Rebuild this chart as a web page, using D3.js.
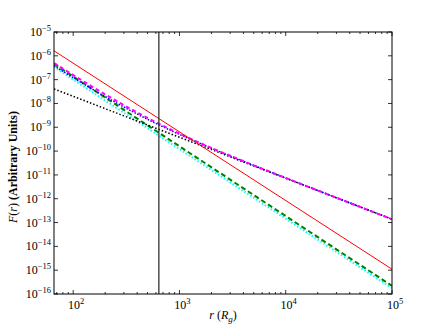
<!DOCTYPE html>
<html>
<head>
<meta charset="utf-8">
<script src="https://cdn.jsdelivr.net/npm/d3@7"></script>
<style>
  body { margin: 0; background: #fff; }
  text { font-family: "Liberation Serif", "DejaVu Serif", serif; fill: #000; }
</style>
</head>
<body>
<svg id="canvas" width="436" height="327"></svg>
<script>
// values (r in R_g, F in arbitrary units)
let rEnds = [66, 1e5]
let fRed = [1.62e-6, 1.1e-15]
let fGreen = [4.57e-7, 2.2e-16]
let fCyan = [3.39e-7, 1.74e-16]
let fBlack = [4.07e-8, 1.38e-13]

let rGrid = [66, 100, 200, 500, 1000, 2000, 5000, 1e4, 2e4, 5e4, 1e5]
let fMagenta = [4.98e-7, 1.56e-7, 2.39e-8, 2.47e-9, 5.40e-10, 1.36e-10, 2.53e-11, 7.43e-12, 2.23e-12, 4.55e-13, 1.38e-13]
let fBlue = [3.80e-7, 1.21e-7, 1.94e-8, 2.17e-9, 5.01e-10, 1.32e-10, 2.50e-11, 7.39e-12, 2.23e-12, 4.55e-13, 1.38e-13]

let rMark = 640 // vertical line
let xMajor = [2, 3, 4, 5]
let yMajor = [-16, -15, -14, -13, -12, -11, -10, -9, -8, -7, -6, -5]

let canvas = d3.select('#canvas')
let pLeft = 54, pRight = 392, pTop = 32, pBottom = 294

let x = d3.scaleLog().domain([66, 1e5]).range([pLeft, pRight])
let y = d3.scaleLog().domain([1e-16, 1e-5]).range([pBottom, pTop])

let line = d3.line().x(d => x(d[0])).y(d => y(d[1])).curve(d3.curveMonotoneX)
let pairs = (rs, fs) => rs.map((r, i) => [r, fs[i]])

let series = [
    { pts: pairs(rEnds, fCyan), color: '#00ffff', width: 2, dash: '1.5,2' },
    { pts: pairs(rEnds, fGreen), color: '#008000', width: 2, dash: '5,3' },
    { pts: pairs(rEnds, fBlack), color: '#000000', width: 1.5, dash: '1.5,2' },
    { pts: pairs(rGrid, fBlue), color: '#0000ff', width: 1.5, dash: '1.5,1.5' },
    { pts: pairs(rGrid, fMagenta), color: '#ff00ff', width: 2, dash: '4,3' },
    { pts: pairs(rEnds, fRed), color: '#ff0000', width: 1, dash: null }
]

canvas.append('clipPath').attr('id', 'clip')
    .append('rect').attr('x', pLeft).attr('y', pTop).attr('width', pRight - pLeft).attr('height', pBottom - pTop)

let plot = canvas.append('g').attr('clip-path', 'url(#clip)')
plot.selectAll('path')
    .data(series)
    .enter()
    .append('path')
    .attr('d', d => line(d.pts))
    .attr('fill', 'none')
    .attr('stroke', d => d.color)
    .attr('stroke-width', d => d.width)
    .attr('stroke-dasharray', d => d.dash)

// vertical marker
plot.append('line')
    .attr('x1', x(rMark)).attr('x2', x(rMark))
    .attr('y1', pTop).attr('y2', pBottom)
    .attr('stroke', '#333').attr('stroke-width', 1.3)

// ticks (inward, all four sides)
let ticks = canvas.append('g').attr('stroke', '#000').attr('stroke-width', 0.8)
let xMinor = []
for (let e = 1; e < 5; e++) for (let m = 2; m < 10; m++) {
    let v = m * Math.pow(10, e)
    if (v >= 66 && v <= 1e5) xMinor.push(v)
}
xMinor.forEach(v => {
    ticks.append('line').attr('x1', x(v)).attr('x2', x(v)).attr('y1', pBottom).attr('y2', pBottom - 2)
    ticks.append('line').attr('x1', x(v)).attr('x2', x(v)).attr('y1', pTop).attr('y2', pTop + 2)
})
xMajor.forEach(e => {
    let v = Math.pow(10, e)
    ticks.append('line').attr('x1', x(v)).attr('x2', x(v)).attr('y1', pBottom).attr('y2', pBottom - 4)
    ticks.append('line').attr('x1', x(v)).attr('x2', x(v)).attr('y1', pTop).attr('y2', pTop + 4)
})
yMajor.forEach(e => {
    let v = Math.pow(10, e)
    ticks.append('line').attr('x1', pLeft).attr('x2', pLeft + 4).attr('y1', y(v)).attr('y2', y(v))
    ticks.append('line').attr('x1', pRight).attr('x2', pRight - 4).attr('y1', y(v)).attr('y2', y(v))
})

// frame
canvas.append('rect')
    .attr('x', pLeft).attr('y', pTop).attr('width', pRight - pLeft).attr('height', pBottom - pTop)
    .attr('fill', 'none').attr('stroke', '#000').attr('stroke-width', 1)

// tick labels
let power = (g, e) => {
    g.append('tspan').text('10').style('font-size', '12px')
    g.append('tspan').text(e < 0 ? '\u2212' + (-e) : e).attr('dy', -5).style('font-size', '8.5px')
}
xMajor.forEach(e => {
    let t = canvas.append('text').attr('x', x(Math.pow(10, e)) + 3).attr('y', pBottom + 15).attr('text-anchor', 'middle')
    power(t, e)
})
yMajor.forEach(e => {
    let t = canvas.append('text').attr('x', pLeft - 3).attr('y', y(Math.pow(10, e)) + 4).attr('text-anchor', 'end')
    power(t, e)
})

// axis labels
let xl = canvas.append('text').attr('x', (pLeft + pRight) / 2).attr('y', 319).attr('text-anchor', 'middle').style('font-size', '12px')
xl.append('tspan').text('r').style('font-style', 'italic')
xl.append('tspan').text(' (')
xl.append('tspan').text('R').style('font-style', 'italic')
xl.append('tspan').text('g').style('font-style', 'italic').style('font-size', '9px').attr('dy', 3)
xl.append('tspan').text(')').attr('dy', -3)

let yl = canvas.append('text').attr('transform', 'translate(17,' + ((pTop + pBottom) / 2 + 4) + ') rotate(-90)')
    .attr('text-anchor', 'middle').style('font-size', '12px')
yl.append('tspan').text('F').style('font-style', 'italic')
yl.append('tspan').text('(')
yl.append('tspan').text('r').style('font-style', 'italic')
yl.append('tspan').text(') ')
yl.append('tspan').text('(Arbitrary Units)').style('font-weight', 'bold')
</script>
</body>
</html>
